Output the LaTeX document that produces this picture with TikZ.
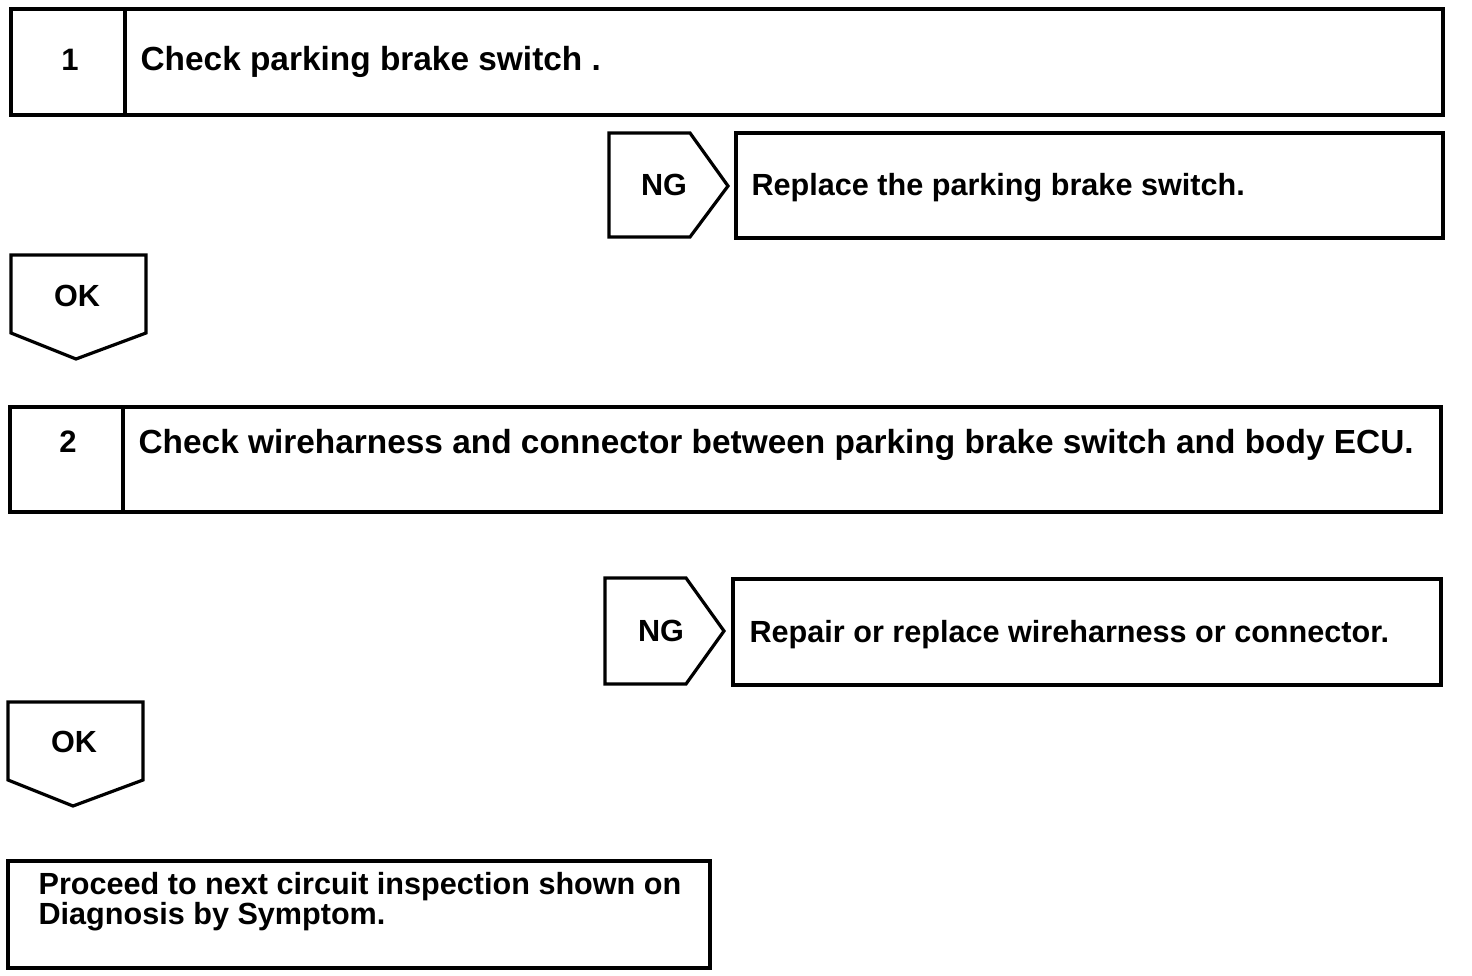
\documentclass[tikz,border=0pt]{standalone}
\usepackage{fontspec}
\setmainfont{Liberation Sans}
\begin{document}
\begin{tikzpicture}[x=1pt,y=-1pt,line width=3.2pt,line join=miter,
  big/.style={font=\bfseries\fontsize{33.4}{38}\selectfont,anchor=base west,inner sep=0pt},
  lbl/.style={font=\bfseries\fontsize{30.6}{36}\selectfont,anchor=base west,inner sep=0pt},
  num/.style={font=\bfseries\fontsize{31}{36}\selectfont,anchor=base,inner sep=0pt},
  tag/.style={font=\bfseries\fontsize{30.6}{36}\selectfont,anchor=base,inner sep=0pt},
  frame/.style={draw,black}]
\useasboundingbox (0,0) rectangle (1472,976);
% step 1
\draw[frame] (11,9) rectangle (1443,115);
\draw[frame] (125,9) -- (125,115);
\node[num] (n1) at (70,71) {1};
\node[big] (t1) at (139,71) {Check parking brake switch .};
% NG 1
\draw[frame] (609,133) -- (690,133) -- (728,186) -- (690,237) -- (609,237) -- cycle;
\node[tag] (ng1) at (664,196) {NG};
\draw[frame] (736,133) rectangle (1443,238);
\node[lbl] (r1) at (750,196) {Replace the parking brake switch.};
% OK 1
\draw[frame] (11,255) -- (146,255) -- (146,333) -- (76,359) -- (11,333) -- cycle;
\node[tag] (ok1) at (77,306) {OK};
% step 2
\draw[frame] (10,407) rectangle (1441,512);
\draw[frame] (123,407) -- (123,512);
\node[num] (n2) at (68,452) {2};
\node[big] (t2) at (137,453) {Check wireharness and connector between parking brake switch and body ECU.};
% NG 2
\draw[frame] (605,578) -- (686,578) -- (724,631) -- (686,684) -- (605,684) -- cycle;
\node[tag] (ng2) at (661,641) {NG};
\draw[frame] (733,579) rectangle (1441,685);
\node[lbl] (r2) at (748,642) {Repair or replace wireharness or connector.};
% OK 2
\draw[frame] (8,702) -- (143,702) -- (143,780) -- (73,806) -- (8,780) -- cycle;
\node[tag] (ok2) at (74,752) {OK};
% final
\draw[frame] (8,861) rectangle (710,968);
\node[lbl] (f1) at (37,894) {Proceed to next circuit inspection shown on};
\node[lbl] (f2) at (37,924) {Diagnosis by Symptom.};
\end{tikzpicture}
\end{document}
